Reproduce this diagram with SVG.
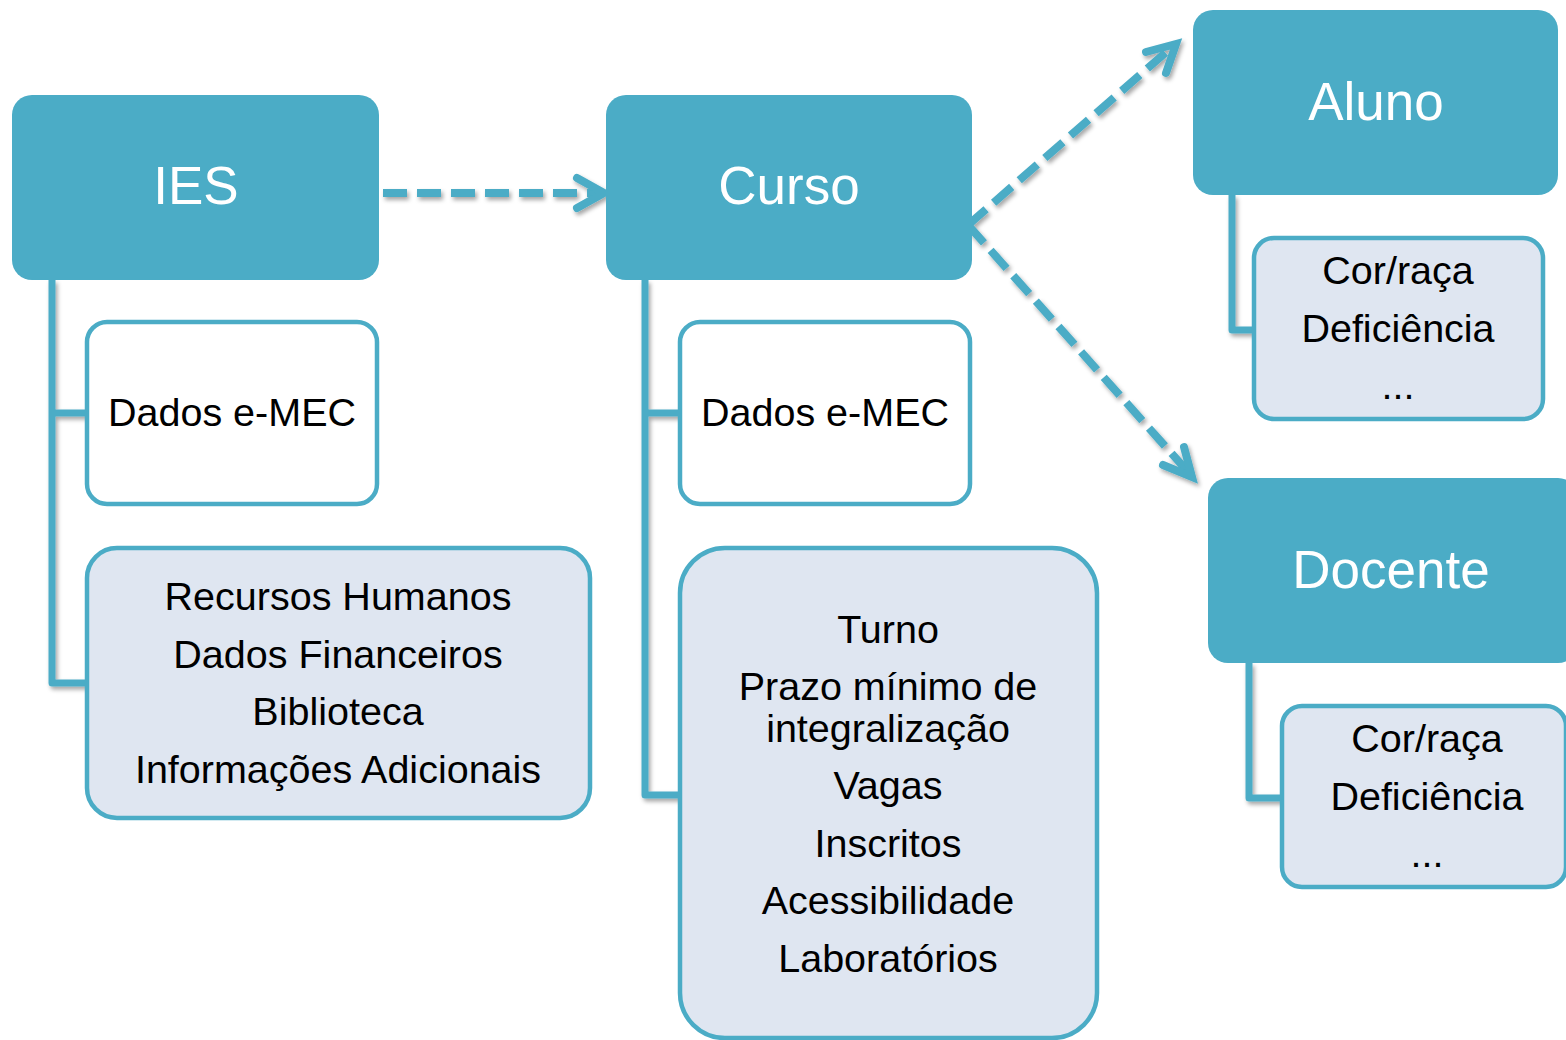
<svg xmlns="http://www.w3.org/2000/svg" width="1566" height="1040" viewBox="0 0 1566 1040">
<style>
.hdr{fill:#4BACC6}
.ht{fill:#fff;font-family:"Liberation Sans",Arial,sans-serif;font-size:53px;text-anchor:middle}
.wb{fill:#fff;stroke:#4BACC6;stroke-width:4.5}
.lb{fill:#DFE6F1;stroke:#4BACC6;stroke-width:4.5}
.bt{fill:#000;font-family:"Liberation Sans",Arial,sans-serif;font-size:39.5px;text-anchor:middle}
.conn{fill:none;stroke:#4BACC6;stroke-width:7;stroke-linejoin:round}
.arr{fill:none;stroke:#4BACC6;stroke-width:8;stroke-dasharray:24 10}
.head{fill:none;stroke:#4BACC6;stroke-width:8;stroke-linecap:round;stroke-linejoin:miter}
</style>
<defs>
<filter id="sh" x="-20%" y="-20%" width="140%" height="140%">
<feDropShadow dx="2" dy="3" stdDeviation="2" flood-color="#000" flood-opacity="0.35"/>
</filter>
</defs>
<g id="connectors" filter="url(#sh)">
<path class="conn" d="M52 280 V683 H89 M52 413 H89"/>
<path class="conn" d="M645 280 V795 H682 M645 413 H682"/>
<path class="conn" d="M1232 195 V330 H1256"/>
<path class="conn" d="M1249 663 V798 H1284"/>
<line class="arr" x1="383" y1="193" x2="598" y2="193"/>
<polyline class="head" points="577,178 604,193 577,208"/>
<line class="arr" x1="968" y1="225" x2="1172" y2="47"/>
<polyline class="head" points="1146,52 1176,44 1166,73"/>
<line class="arr" x1="968" y1="225" x2="1189" y2="473"/>
<polyline class="head" points="1163,465 1192,477 1184,447"/>
</g>
<g id="ies">
<rect class="hdr" x="12" y="95" width="367" height="185" rx="20"/>
<text class="ht" x="196" y="204">IES</text>
</g>
<g id="curso">
<rect class="hdr" x="606" y="95" width="366" height="185" rx="20"/>
<text class="ht" x="789" y="204">Curso</text>
</g>
<g id="aluno">
<rect class="hdr" x="1193" y="10" width="365" height="185" rx="20"/>
<text class="ht" x="1376" y="120">Aluno</text>
</g>
<g id="docente">
<rect class="hdr" x="1208" y="478" width="370" height="185" rx="20"/>
<text class="ht" x="1391" y="588">Docente</text>
</g>
<g id="ies-emec">
<rect class="wb" x="87" y="322" width="290" height="182" rx="20"/>
<text class="bt" x="232" y="426">Dados e-MEC</text>
</g>
<g id="curso-emec">
<rect class="wb" x="680" y="322" width="290" height="182" rx="20"/>
<text class="bt" x="825" y="426">Dados e-MEC</text>
</g>
<g id="ies-list">
<rect class="lb" x="87" y="548" width="503" height="270" rx="30"/>
<text class="bt" x="338" y="610">Recursos Humanos</text>
<text class="bt" x="338" y="668">Dados Financeiros</text>
<text class="bt" x="338" y="725">Biblioteca</text>
<text class="bt" x="338" y="783">Informações Adicionais</text>
</g>
<g id="curso-list">
<rect class="lb" x="680" y="548" width="417" height="490" rx="45"/>
<text class="bt" x="888" y="643">Turno</text>
<text class="bt" x="888" y="700">Prazo mínimo de</text>
<text class="bt" x="888" y="742">integralização</text>
<text class="bt" x="888" y="799">Vagas</text>
<text class="bt" x="888" y="857">Inscritos</text>
<text class="bt" x="888" y="914">Acessibilidade</text>
<text class="bt" x="888" y="972">Laboratórios</text>
</g>
<g id="aluno-list">
<rect class="lb" x="1254" y="238" width="289" height="181" rx="20"/>
<text class="bt" x="1398" y="284">Cor/raça</text>
<text class="bt" x="1398" y="342">Deficiência</text>
<text class="bt" x="1398" y="399">...</text>
</g>
<g id="docente-list">
<rect class="lb" x="1282" y="706" width="284" height="181" rx="20"/>
<text class="bt" x="1427" y="752">Cor/raça</text>
<text class="bt" x="1427" y="810">Deficiência</text>
<text class="bt" x="1427" y="867">...</text>
</g>
</svg>
